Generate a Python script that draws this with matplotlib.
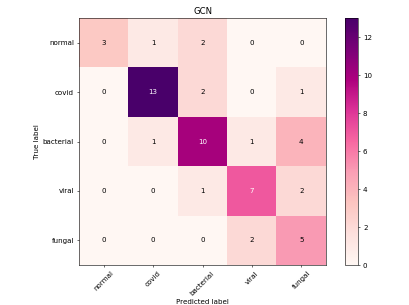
import numpy as np
import matplotlib
matplotlib.use("Agg")
from matplotlib import pyplot as plt

classes = ["normal", "covid", "bacterial", "viral", "fungal"]
cm = np.array([[3, 1, 2, 0, 0],
               [0, 13, 2, 0, 1],
               [0, 1, 10, 1, 4],
               [0, 0, 1, 7, 2],
               [0, 0, 0, 2, 5]])
title = "GCN"

# original looks like an 8x6 figure shrunk to ~51 dpi
fig = plt.figure(figsize=(8, 305 / 51.125), dpi=51.125)
ax = fig.add_axes([79 / 409, 40 / 305, 247 / 409, 247 / 305])
cax = fig.add_axes([345 / 409, 40 / 305, 13 / 409, 247 / 305])

im = ax.imshow(cm, interpolation='nearest', cmap=plt.cm.RdPu)
ax.set_title(title)
fig.colorbar(im, cax=cax)
ticks = np.arange(len(classes))
ax.set_xticks(ticks)
ax.set_xticklabels(classes, rotation=45)
ax.set_yticks(ticks)
ax.set_yticklabels(classes)

thresh = cm.max() / 2.
for i in range(cm.shape[0]):
    for j in range(cm.shape[1]):
        ax.text(j, i, format(cm[i, j], 'd'), ha="center", va="center",
                color="white" if cm[i, j] > thresh else "black")

ax.set_ylabel('True label')
ax.set_xlabel('Predicted label')
fig.savefig("out.png", dpi=51.125)
